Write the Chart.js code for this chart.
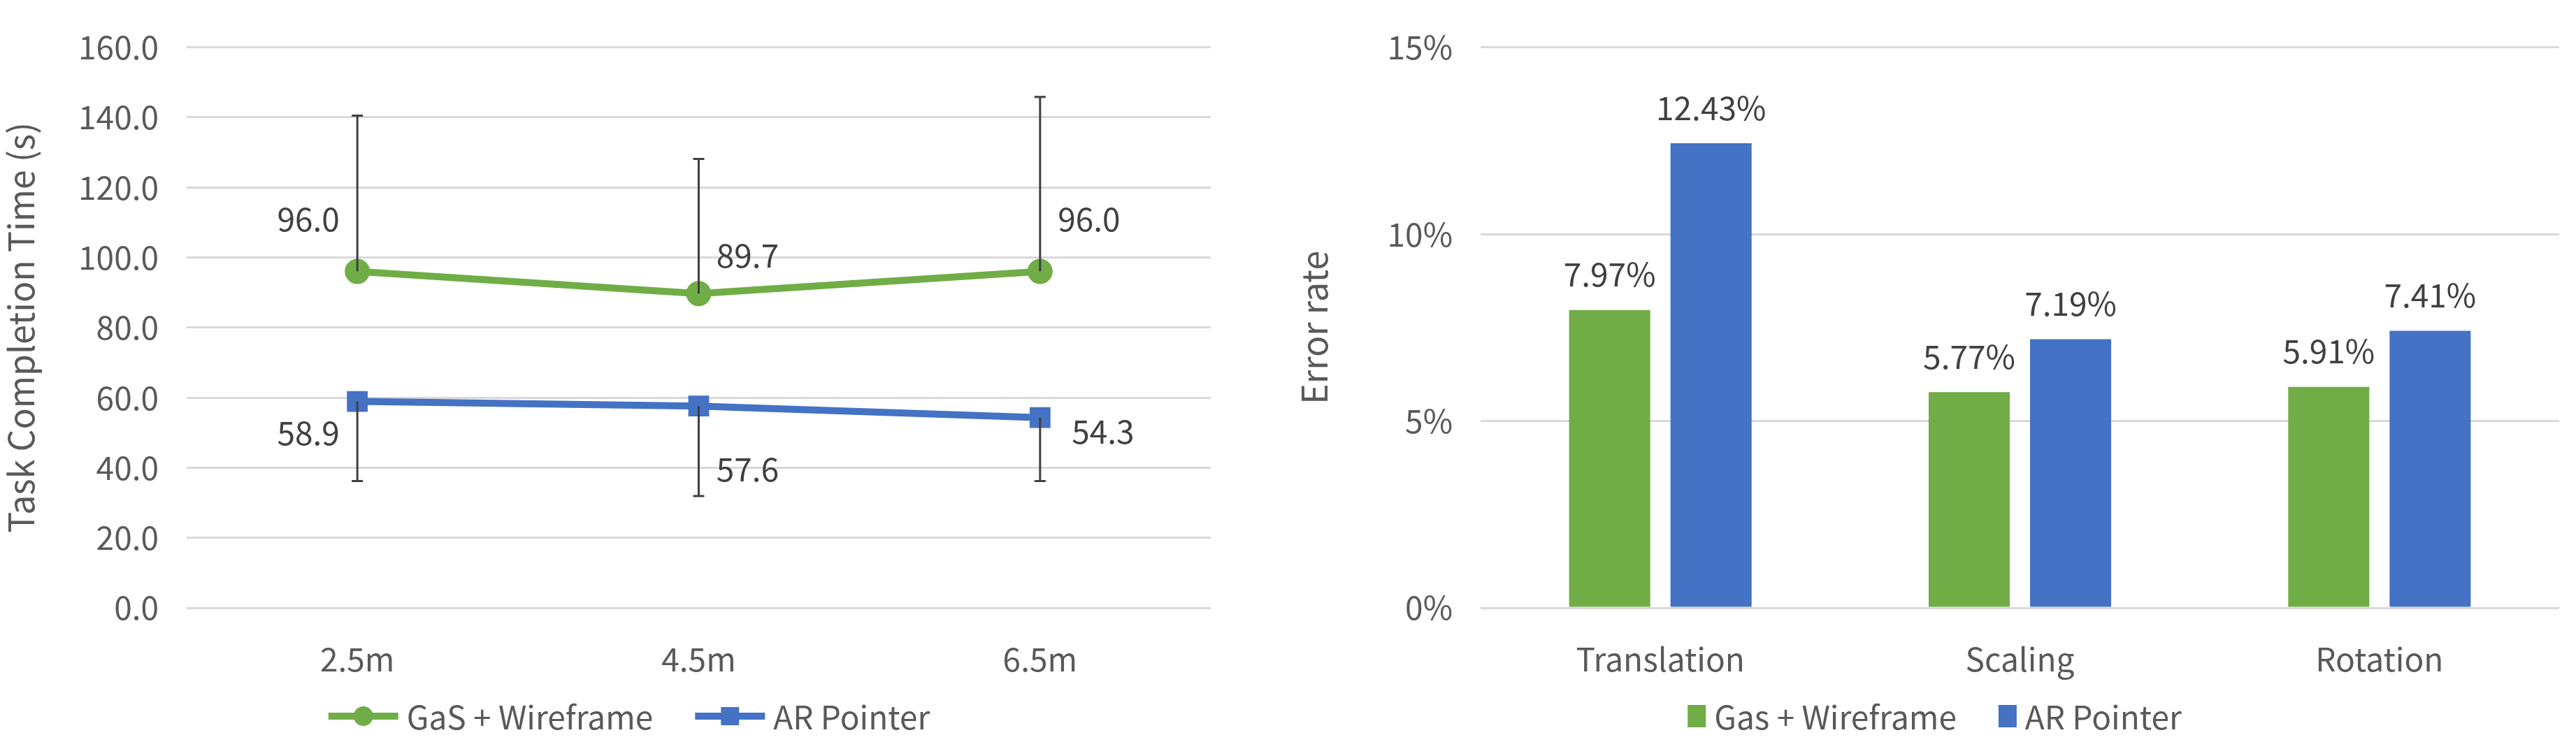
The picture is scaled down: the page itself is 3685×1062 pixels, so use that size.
<!DOCTYPE html>
<html>
<head>
<meta charset="utf-8">
<script src="https://cdn.jsdelivr.net/npm/chart.js@4.4.1/dist/chart.umd.min.js"></script>
<style>
  body { margin: 0; background: #fff; width: 3685px; height: 1062px; position: relative; overflow: hidden; }
  canvas { position: absolute; top: 0; }
</style>
</head>
<body>
<canvas id="time-chart" width="1800" height="1062" style="left:0"></canvas>
<canvas id="error-chart" width="1835" height="1062" style="left:1850px"></canvas>
<script>
const distances = ["2.5m", "4.5m", "6.5m"];
const gasTime = [96.0, 89.7, 96.0];
const arTime = [58.9, 57.6, 54.3];
const gasTimeUpper = [140.5, 128.1, 145.8];
const arTimeLower = [36.2, 31.9, 36.2];
const yTimeTicks = [0, 20, 40, 60, 80, 100, 120, 140, 160];

const tasks = ["Translation", "Scaling", "Rotation"];
const gasError = [7.97, 5.77, 5.91];
const arError = [12.43, 7.19, 7.41];

const green = "#70AD47";
const blue = "#4472C4";
const textColor = "#595959";
const gridColor = "#D9D9D9";
const fontFamily = "'Noto Sans CJK KR', 'Noto Sans', sans-serif";

Chart.defaults.font.family = fontFamily;
Chart.defaults.color = textColor;

// Error bars drawn from the value arrays through the scales
const errorBarPlugin = {
  id: "errorBars",
  afterDatasetsDraw(chart) {
    const ctx = chart.ctx;
    const x = chart.scales.x, y = chart.scales.y;
    ctx.save();
    ctx.strokeStyle = "#404040";
    ctx.lineWidth = 3;
    const bar = (i, from, to) => {
      const px = x.getPixelForValue(i);
      ctx.beginPath();
      ctx.moveTo(px, y.getPixelForValue(from));
      ctx.lineTo(px, y.getPixelForValue(to));
      ctx.moveTo(px - 8, y.getPixelForValue(to));
      ctx.lineTo(px + 8, y.getPixelForValue(to));
      ctx.stroke();
    };
    distances.forEach((d, i) => {
      bar(i, gasTime[i], gasTimeUpper[i]);
      bar(i, arTime[i], arTimeLower[i]);
    });
    ctx.restore();
  }
};

// Data labels for the line chart
const lineLabelPlugin = {
  id: "lineLabels",
  afterDatasetsDraw(chart) {
    const ctx = chart.ctx;
    const offsets = [
      [[-70, -75], [70, -55], [70, -75]],
      [[-70, 45], [70, 90], [90, 20]]
    ];
    ctx.save();
    ctx.font = "46px " + fontFamily;
    ctx.fillStyle = "#404040";
    ctx.textAlign = "center";
    ctx.textBaseline = "middle";
    chart.data.datasets.forEach((ds, di) => {
      chart.getDatasetMeta(di).data.forEach((pt, i) => {
        const o = offsets[di][i];
        ctx.fillText(ds.data[i].toFixed(1), pt.x + o[0], pt.y + o[1]);
      });
    });
    ctx.restore();
  }
};

// Excel-like legend centred under the chart
function legendPlugin(kind) {
  return {
    id: "customLegend",
    afterDraw(chart) {
      const ctx = chart.ctx;
      ctx.save();
      ctx.font = "46px " + fontFamily;
      ctx.textBaseline = "middle";
      const y = 1025;
      const items = chart.data.datasets.map(ds => ({ label: ds.label, color: ds.borderColor || ds.backgroundColor, style: ds.pointStyle }));
      const sym = kind === "line" ? 100 : 26;
      const gap = 12, between = 60;
      let total = 0;
      items.forEach((it, i) => { total += sym + gap + ctx.measureText(it.label).width + (i ? between : 0); });
      let x = chart.width / 2 - total / 2;
      items.forEach((it, i) => {
        if (i) x += between;
        ctx.fillStyle = it.color;
        if (kind === "line") {
          ctx.strokeStyle = it.color;
          ctx.lineWidth = 10;
          ctx.beginPath(); ctx.moveTo(x, y); ctx.lineTo(x + sym, y); ctx.stroke();
          if (it.style === "rect") ctx.fillRect(x + sym / 2 - 13, y - 13, 26, 26);
          else { ctx.beginPath(); ctx.arc(x + sym / 2, y, 14, 0, Math.PI * 2); ctx.fill(); }
        } else {
          ctx.fillRect(x, y - 16, sym, 32);
        }
        x += sym + gap;
        ctx.fillStyle = textColor;
        ctx.fillText(it.label, x, y + 2);
        x += ctx.measureText(it.label).width;
      });
      ctx.restore();
    }
  };
}

new Chart(document.getElementById("time-chart"), {
  type: "line",
  data: {
    labels: distances,
    datasets: [
      { label: "GaS + Wireframe", data: gasTime, borderColor: green, backgroundColor: green, borderWidth: 10, pointStyle: "circle", pointRadius: 13 },
      { label: "AR Pointer", data: arTime, borderColor: blue, backgroundColor: blue, borderWidth: 10, pointStyle: "rect", pointRadius: 14 }
    ]
  },
  options: {
    responsive: false,
    devicePixelRatio: 1,
    animation: false,
    layout: { padding: { top: 53, right: 68, left: 0, bottom: 0 } },
    plugins: { legend: { display: false }, tooltip: { enabled: false } },
    scales: {
      x: {
        offset: true,
        grid: { display: false },
        border: { display: false },
        ticks: { font: { size: 46 }, padding: 38 },
        afterFit: s => { s.height = 192; }
      },
      y: {
        min: 0, max: 160,
        afterBuildTicks: s => { s.ticks = yTimeTicks.map(v => ({ value: v })); },
        grid: { color: gridColor, lineWidth: 3, drawTicks: false },
        border: { display: false },
        ticks: { font: { size: 46 }, padding: 40, callback: v => v.toFixed(1) },
        title: { display: true, text: "Task Completion Time (s)", font: { size: 50 }, padding: 0 },
        afterFit: s => { s.width = 267; }
      }
    }
  },
  plugins: [errorBarPlugin, lineLabelPlugin, legendPlugin("line")]
});

new Chart(document.getElementById("error-chart"), {
  type: "bar",
  data: {
    labels: tasks,
    datasets: [
      { label: "Gas + Wireframe", data: gasError, backgroundColor: green },
      { label: "AR Pointer", data: arError, backgroundColor: blue }
    ]
  },
  options: {
    responsive: false,
    devicePixelRatio: 1,
    animation: false,
    categoryPercentage: 0.564,
    barPercentage: 0.8,
    layout: { padding: { top: 53, right: 24, left: 0, bottom: 0 } },
    plugins: { legend: { display: false }, tooltip: { enabled: false } },
    scales: {
      x: {
        grid: { display: false },
        border: { display: false },
        ticks: { font: { size: 46 }, padding: 38 },
        afterFit: s => { s.height = 192; }
      },
      y: {
        min: 0, max: 15,
        ticks: { stepSize: 5, font: { size: 46 }, padding: 40, callback: v => v + "%" },
        grid: { color: gridColor, lineWidth: 3, drawTicks: false },
        border: { display: false },
        title: { display: true, text: "Error rate", font: { size: 50 }, padding: 0 },
        afterFit: s => { s.width = 268; }
      }
    }
  },
  plugins: [legendPlugin("bar"), {
    id: "barLabels",
    afterDatasetsDraw(chart) {
      const ctx = chart.ctx;
      ctx.save();
      ctx.font = "46px " + fontFamily;
      ctx.fillStyle = "#404040";
      ctx.textAlign = "center";
      ctx.textBaseline = "bottom";
      chart.data.datasets.forEach((ds, di) => {
        chart.getDatasetMeta(di).data.forEach((b, i) => {
          ctx.fillText(ds.data[i].toFixed(2) + "%", b.x, b.y - 28);
        });
      });
      ctx.restore();
    }
  }]
});
</script>
</body>
</html>
